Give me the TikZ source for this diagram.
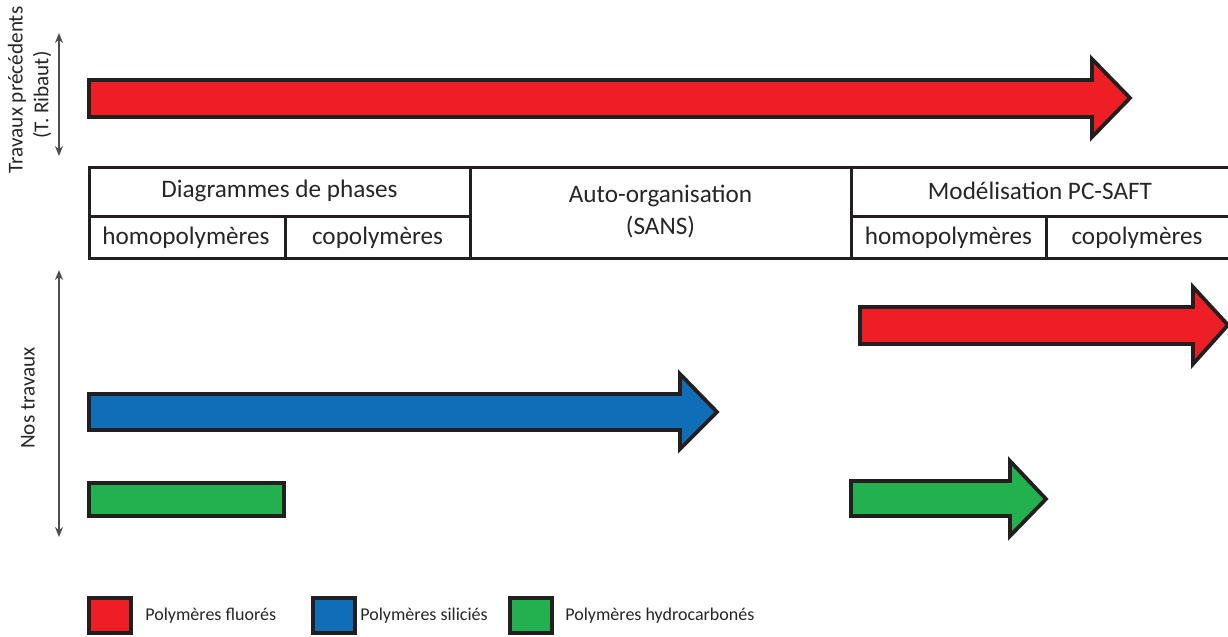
\documentclass[tikz,border=0pt]{standalone}
\usepackage{fontspec}
\setmainfont{Carlito}
\usetikzlibrary{arrows.meta}
\definecolor{cred}{HTML}{ED1F24}
\definecolor{cblue}{HTML}{106EB8}
\definecolor{cgreen}{HTML}{23B04E}
\definecolor{cline}{HTML}{231F20}
\definecolor{cgray}{HTML}{4D4D4D}
\tikzset{
  blockarrow/.style={draw=cline, line width=1.9pt, line join=miter},
  tablebox/.style={draw=cline, line width=1.5pt},
  celltext/.style={font=\fontsize{12.6}{15}\selectfont, text=black!85, inner sep=0pt},
  sidetext/.style={font=\fontsize{10.6}{12.5}\selectfont, text=black!85, rotate=90, inner sep=0pt},
  legtext/.style={font=\fontsize{9}{10}\selectfont, text=black!85, anchor=west, inner sep=0pt},
  dblarrow/.style={draw=cgray, line width=0.8pt, {Stealth[length=5pt,width=4pt]}-{Stealth[length=5pt,width=4pt]}},
}
\begin{document}
\begin{tikzpicture}[x=0.5pt, y=-0.5pt]
\useasboundingbox (0,0) rectangle (1228,637);
% top red arrow
\filldraw[blockarrow, fill=cred] (89,80) -- (1092,80) -- (1092,59) -- (1130,98) -- (1092,137) -- (1092,117) -- (89,117) -- cycle;
% table
\draw[tablebox] (1230,167) -- (89,167) -- (89,258) -- (1230,258);
\draw[tablebox] (89,216) -- (470,216);
\draw[tablebox] (851,216) -- (1230,216);
\draw[tablebox] (470,167) -- (470,258);
\draw[tablebox] (851,167) -- (851,258);
\draw[tablebox] (285,216) -- (285,258);
\draw[tablebox] (1046,216) -- (1046,258);
\node[celltext] (diag) at (279.5,191) {Diagrammes de phases};
\node[celltext] (homo1) at (186,238) {homopolymères};
\node[celltext] (copo1) at (377.5,238) {copolymères};
\node[celltext, align=center] (auto) at (660.5,212) {Auto-organisation\\[1pt](SANS)};
\node[celltext] (model) at (1040,191) {Modélisation PC-SAFT};
\node[celltext] (homo2) at (948.5,238) {homopolymères};
\node[celltext] (copo2) at (1137,238) {copolymères};
% side labels
\node[sidetext] (trav) at (17,90) {Travaux précédents};
\node[sidetext] (rib) at (42,95) {(T. Ribaut)};
\coordinate (t1) at (59,33);
\coordinate (t2) at (59,156);
\draw[dblarrow] (t1) -- (t2);
\node[sidetext] (nos) at (28,398) {Nos travaux};
\coordinate (n1) at (59,270);
\coordinate (n2) at (59,537);
\draw[dblarrow] (n1) -- (n2);
% our work arrows
\filldraw[blockarrow, fill=cred] (860,307) -- (1193,307) -- (1193,287) -- (1228,325) -- (1193,364) -- (1193,344) -- (860,344) -- cycle;
\filldraw[blockarrow, fill=cblue] (89,394) -- (680,394) -- (680,374) -- (717,412) -- (680,449) -- (680,430) -- (89,430) -- cycle;
\filldraw[blockarrow, fill=cgreen] (89,483) rectangle (284,516);
\filldraw[blockarrow, fill=cgreen] (851,481) -- (1010,481) -- (1010,461) -- (1046,499) -- (1010,536) -- (1010,516) -- (851,516) -- cycle;
% legend
\filldraw[blockarrow, fill=cred] (89,598) rectangle (131,633);
\node[legtext] (l1) at (145,616) {Polymères fluorés};
\filldraw[blockarrow, fill=cblue] (313,598) rectangle (355,633);
\node[legtext] (l2) at (360,616) {Polymères siliciés};
\filldraw[blockarrow, fill=cgreen] (510,598) rectangle (552,633);
\node[legtext] (l3) at (565,616) {Polymères hydrocarbonés};
\end{tikzpicture}
\end{document}
